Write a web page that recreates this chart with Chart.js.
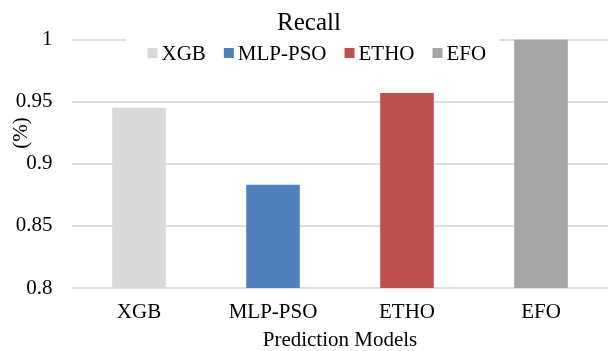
<!DOCTYPE html>
<html>
<head>
<meta charset="utf-8">
<script src="https://cdn.jsdelivr.net/npm/chart.js@4"></script>
<style>
  html, body { margin: 0; padding: 0; background: #fff; overflow: hidden; }
  #wrap { width: 608px; height: 351px; }
</style>
</head>
<body>
<div id="wrap"><canvas id="c" width="608" height="351"></canvas></div>
<script>
// Recall per prediction model
const categories = ['XGB', 'MLP-PSO', 'ETHO', 'EFO'];
const recallValues = [0.945, 0.883, 0.957, 1.0];
const yTickValues = [0.8, 0.85, 0.9, 0.95, 1];
const chartTitle = 'Recall';
const xAxisTitle = 'Prediction Models';
const yAxisTitle = '(%)';

const seriesColors = ['#d9d9d9', '#4f81bd', '#c0504d', '#a5a5a5'];
const FAMILY = '"Liberation Serif", "Times New Roman", serif';

// one dataset per model so each gets its own legend entry
const datasets = categories.map((name, i) => ({
  label: name,
  data: categories.map((_, j) => (j === i ? recallValues[i] : null)),
  backgroundColor: seriesColors[i],
  borderWidth: 0,
  grouped: false,
  barPercentage: 0.4,
  categoryPercentage: 1.0
}));

// title, inset legend (white backing over the top gridline) and rotated y title
const overlay = {
  id: 'overlay',
  afterDraw(chart) {
    const { ctx, chartArea: a } = chart;
    ctx.save();
    ctx.fillStyle = '#000';

    ctx.font = '25px ' + FAMILY;
    ctx.textAlign = 'center';
    ctx.textBaseline = 'alphabetic';
    ctx.fillText(chartTitle, a.left + 237, a.top - 9.5);

    ctx.font = '21px ' + FAMILY;
    const box = 10, gap = 4, itemGap = 18;
    const items = chart.data.datasets.map(ds => ({
      label: ds.label,
      color: ds.backgroundColor,
      w: ctx.measureText(ds.label).width
    }));
    const total = items.reduce((s, it) => s + box + gap + it.w, 0) + itemGap * (items.length - 1);
    let x = a.left + 75.5;
    ctx.fillStyle = '#fff';
    ctx.fillRect(x - 21, a.top - 3, total + 34, 30);
    ctx.textAlign = 'left';
    items.forEach(it => {
      ctx.fillStyle = it.color;
      ctx.fillRect(x, a.top + 8.5, box, box);
      ctx.fillStyle = '#000';
      ctx.fillText(it.label, x + box + gap, a.top + 20);
      x += box + gap + it.w + itemGap;
    });

    ctx.translate(21, a.top + 93.5);
    ctx.rotate(-Math.PI / 2);
    ctx.textAlign = 'center';
    ctx.textBaseline = 'middle';
    ctx.fillStyle = '#000';
    ctx.fillText(yAxisTitle, 0, 0);
    ctx.restore();
  }
};

function build() {
  new Chart(document.getElementById('c'), {
    type: 'bar',
    data: { labels: categories, datasets },
    plugins: [overlay],
    options: {
      responsive: false,
      animation: false,
      layout: { padding: { top: 39.5, right: -4, bottom: 0, left: 0 } },
      plugins: {
        legend: { display: false },
        title: { display: false },
        tooltip: { enabled: false }
      },
      scales: {
        x: {
          grid: { display: false, drawTicks: false },
          border: { display: false },
          ticks: {
            font: { family: FAMILY, size: 21 },
            color: '#000',
            padding: 12,
            maxRotation: 0,
            autoSkip: false
          },
          title: {
            display: true,
            text: xAxisTitle,
            color: '#000',
            font: { family: FAMILY, size: 21, lineHeight: 1 },
            padding: { top: 0, bottom: 0 }
          },
          afterFit(scale) { scale.height = 63; }
        },
        y: {
          min: 0.8,
          max: 1,
          afterBuildTicks(scale) { scale.ticks = yTickValues.map(v => ({ value: v })); },
          ticks: {
            callback: v => String(+v.toFixed(2)),
            font: { family: FAMILY, size: 21 },
            color: '#000',
            padding: 19.5
          },
          grid: { color: '#dedede', lineWidth: 2, drawTicks: false },
          border: { display: false },
          afterFit(scale) { scale.width = 72; }
        }
      }
    }
  });
}

// make sure the serif face is ready before the canvas text is drawn
Promise.all([
  document.fonts.load('21px "Liberation Serif"'),
  document.fonts.load('25px "Liberation Serif"')
]).then(build, build);
</script>
</body>
</html>
